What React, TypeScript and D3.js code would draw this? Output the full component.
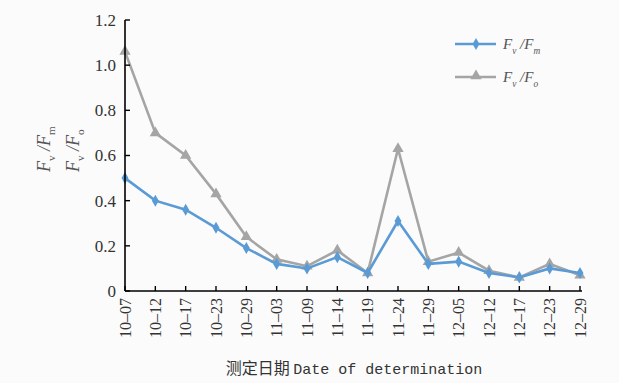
import { useMemo } from "react";
import * as d3 from "d3";

const dates = ["10-07", "10-12", "10-17", "10-23", "10-29", "11-03", "11-09", "11-14", "11-19", "11-24", "11-29", "12-05", "12-12", "12-17", "12-23", "12-29"];
const fvFm = [0.5, 0.4, 0.36, 0.28, 0.19, 0.12, 0.1, 0.15, 0.08, 0.31, 0.12, 0.13, 0.08, 0.06, 0.1, 0.08];
const fvFo = [1.06, 0.7, 0.6, 0.43, 0.24, 0.14, 0.11, 0.18, 0.08, 0.63, 0.13, 0.17, 0.09, 0.06, 0.12, 0.07];
const yTicks = [0, 0.2, 0.4, 0.6, 0.8, 1.0, 1.2];

const W = 619;
const H = 383;
const MARGIN = { top: 20, right: 39, bottom: 92, left: 125 };
const BLUE = "#5b9bd5";
const GRAY = "#a5a5a5";
const SERIF = "'Liberation Serif', 'DejaVu Serif', serif";

const Ratio = ({ x, y, sub, size, italic }: { x: number; y: number; sub: string; size: number; italic?: boolean }) => (
  <text x={x} y={y} fontFamily={SERIF} fontSize={size} fill="#555" fontStyle="italic">
    <tspan>F</tspan>
    <tspan dy={size * 0.3} fontSize={size * 0.62} fontStyle={italic ? "italic" : "normal"}>v</tspan>
    <tspan dy={-size * 0.3}> /F</tspan>
    <tspan dy={size * 0.3} fontSize={size * 0.62} fontStyle={italic ? "italic" : "normal"}>{sub}</tspan>
  </text>
);

const App = () => {
  const innerW = W - MARGIN.left - MARGIN.right;
  const innerH = H - MARGIN.top - MARGIN.bottom;

  const x = useMemo(() => d3.scalePoint<string>().domain(dates).range([0, innerW]), [innerW]);
  const y = useMemo(() => d3.scaleLinear().domain([0, 1.2]).range([innerH, 0]), [innerH]);

  const line = d3
    .line<number>()
    .x((_, i) => x(dates[i]) as number)
    .y((d) => y(d));

  const diamond = d3.symbol().type(d3.symbolDiamond).size(42)();
  const triangle = d3.symbol().type(d3.symbolTriangle).size(55)();

  return (
    <svg width={W} height={H} style={{ position: "fixed", left: 0, top: 0, background: "#fbfbfb" }}>
      <g transform={`translate(${MARGIN.left},${MARGIN.top})`}>
        {/* series */}
        <path d={line(fvFo) ?? ""} fill="none" stroke={GRAY} strokeWidth={2.6} />
        {fvFo.map((v, i) => (
          <path key={"t" + i} d={triangle ?? ""} transform={`translate(${x(dates[i])},${y(v)})`} fill={GRAY} />
        ))}
        <path d={line(fvFm) ?? ""} fill="none" stroke={BLUE} strokeWidth={2.6} />
        {fvFm.map((v, i) => (
          <path key={"d" + i} d={diamond ?? ""} transform={`translate(${x(dates[i])},${y(v)})`} fill={BLUE} />
        ))}

        {/* axes */}
        <line x1={0} x2={0} y1={0} y2={innerH} stroke="#000" strokeWidth={1.6} />
        <line x1={0} x2={innerW + 2} y1={innerH} y2={innerH} stroke="#000" strokeWidth={1.6} />
        {yTicks.map((t) => (
          <g key={t} transform={`translate(0,${y(t)})`}>
            <line x1={0} x2={5} stroke="#000" strokeWidth={1.4} />
            <text x={-9} dy="0.35em" textAnchor="end" fontFamily={SERIF} fontSize={17} fill="#333">
              {t === 0 ? "0" : d3.format(".1f")(t)}
            </text>
          </g>
        ))}
        {dates.map((d) => (
          <g key={d} transform={`translate(${x(d)},${innerH})`}>
            <line y1={0} y2={-5} stroke="#000" strokeWidth={1.4} />
            <text transform="rotate(-90)" x={-7} dy="0.35em" textAnchor="end" fontFamily={SERIF} fontSize={16} fill="#333">
              {d.replace("-", "\u2013")}
            </text>
          </g>
        ))}
      </g>

      {/* y title */}
      <g transform="translate(50,172) rotate(-90)">
        <Ratio x={0} y={0} sub="m" size={18} />
      </g>
      <g transform="translate(79,172) rotate(-90)">
        <Ratio x={0} y={0} sub="o" size={18} />
      </g>

      {/* x title */}
      <text x={354} y={374} textAnchor="middle" fontSize={16} fill="#333">
        <tspan fontFamily="'Noto Sans CJK SC', sans-serif">测定日期 </tspan>
        <tspan fontFamily="'Liberation Mono', monospace" fontSize={15}>Date of determination</tspan>
      </text>

      {/* legend */}
      <line x1={455} x2={496} y1={44} y2={44} stroke={BLUE} strokeWidth={2.6} />
      <path d={diamond ?? ""} transform="translate(476,44)" fill={BLUE} />
      <Ratio x={503} y={49} sub="m" size={15} italic />
      <line x1={455} x2={496} y1={77} y2={77} stroke={GRAY} strokeWidth={2.6} />
      <path d={triangle ?? ""} transform="translate(476,76)" fill={GRAY} />
      <Ratio x={503} y={82} sub="o" size={15} italic />
    </svg>
  );
};

export default App;
